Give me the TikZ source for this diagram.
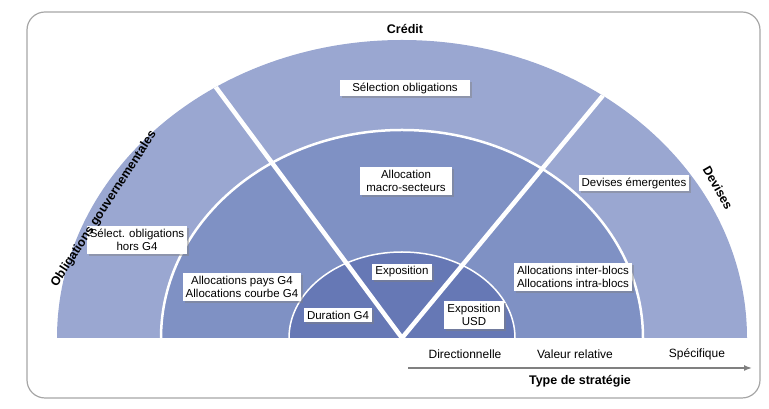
\documentclass[tikz,border=0pt]{standalone}
\usepackage{fontspec}
\setmainfont{Liberation Sans}
\usetikzlibrary{shadows,positioning,arrows.meta}
\definecolor{outerband}{HTML}{9AA7D1}
\definecolor{midband}{HTML}{7F91C4}
\definecolor{innerband}{HTML}{6678B5}

\begin{document}
\begin{tikzpicture}[x=1pt, y=1pt,
    label/.style={rectangle, fill=white, align=center, font=\fontsize{11.5}{13.5}\selectfont,
                  inner xsep=3pt, inner ysep=3pt,
                  drop shadow={opacity=0.45, shadow xshift=2pt, shadow yshift=-2pt}},
    title/.style={font=\fontsize{12.5}{14}\selectfont\bfseries},
    axis/.style={font=\fontsize{12}{14}\selectfont},
    divider/.style={white, line width=4.5pt},
    ring/.style={white, line width=2.5pt}
]
    \useasboundingbox (0,0) rectangle (769,409);
    \draw[gray!70, line width=1.2pt, rounded corners=18pt] (27,11) rectangle (760,397);

    % Bands
    \coordinate (centre) at (402,71);
    \fill[outerband] (centre) ++(-345,0) arc[start angle=180, end angle=0, x radius=345, y radius=298] -- cycle;
    \fill[midband] (centre) ++(-241,0) arc[start angle=180, end angle=0, x radius=241, y radius=208] -- cycle;
    \fill[innerband] (centre) ++(-113,0) arc[start angle=180, end angle=0, x radius=113, y radius=86] -- cycle;
    \draw[ring] (centre) ++(-241,0) arc[start angle=180, end angle=0, x radius=241, y radius=208];
    \draw[white, line width=1.5pt] (centre) ++(-113,0) arc[start angle=180, end angle=0, x radius=113, y radius=86];

    % Dividers
    \begin{scope}
        \clip (centre) ++(-345,0) arc[start angle=180, end angle=0, x radius=345, y radius=298] -- cycle;
        \coordinate (leftend) at (212,327);
        \coordinate (rightend) at (610,322);
        \draw[divider] (centre) -- (leftend);
        \draw[divider] (centre) -- (rightend);
    \end{scope}

    % Labels
    \node[label, inner xsep=12pt] (selection) at (405,321) {Sélection obligations};
    \node[label, inner xsep=6pt] (macro) at (406,228) {Allocation\\macro-secteurs};
    \node[label] (emergentes) at (634,226) {Devises émergentes};
    \node[label] (horsg4) at (137,169) {Sélect. obligations\\hors G4};
    \node[label] (paysg4) at (242,122) {Allocations pays G4\\Allocations courbe G4};
    \node[label] (duration) at (338,94) {Duration G4};
    \node[label] (exposition) at (402,137) {Exposition};
    \node[label] (usd) at (474,94) {Exposition\\USD};
    \node[label] (blocs) at (573,132) {Allocations inter-blocs\\Allocations intra-blocs};

    % Family titles
    \node[title] (credit) at (405,380) {Crédit};
    \node[title, rotate=57] (gouv) at (104,200) {Obligations gouvernementales};
    \node[title, rotate=-60] (devises) at (718,221) {Devises};

    % Strategy axis
    \node[axis] (direc) at (465,55) {Directionnelle};
    \node[axis] (relative) at (575,55) {Valeur relative};
    \node[axis] (specif) at (697,55) {Spécifique};
    \coordinate (axisstart) at (408,41);
    \coordinate (axisend) at (752,41);
    \draw[gray, line width=1.5pt, -{Latex[length=8pt,width=6pt]}] (axisstart) -- (axisend);
    \node[title] (strategie) at (580,28) {Type de stratégie};
\end{tikzpicture}
\end{document}
